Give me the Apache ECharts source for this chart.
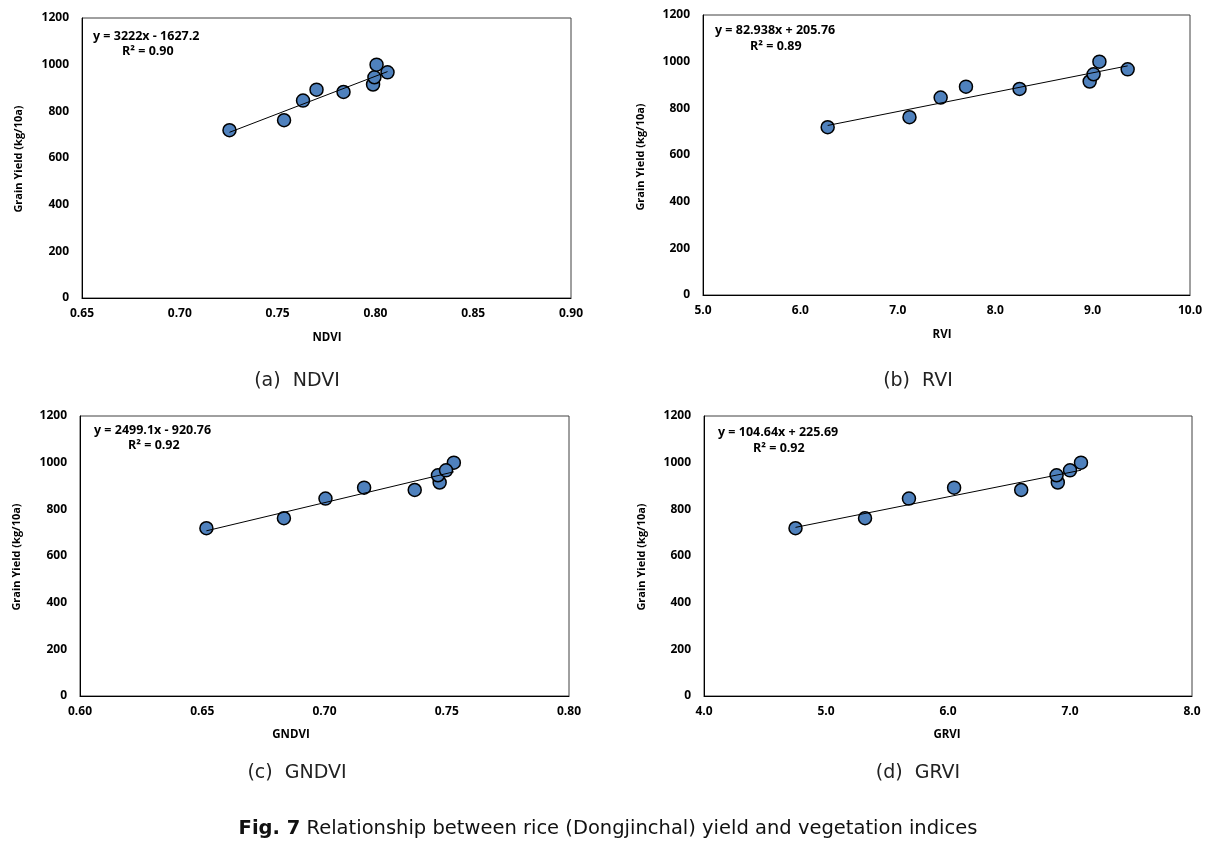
<!DOCTYPE html>
<html>
<head>
<meta charset="utf-8">
<script src="https://cdn.jsdelivr.net/npm/echarts@6/dist/echarts.min.js"></script>
<style>
html,body{margin:0;padding:0;background:#fff;}
#c{width:1222px;height:844px;}
</style>
</head>
<body>
<div id="c"></div>
<script>
// ---- data ----
const yields = [719, 762, 846, 893, 883, 915, 946, 1000, 967];
const ndvi  = [0.7254, 0.7533, 0.7630, 0.7699, 0.7837, 0.7988, 0.7995, 0.8006, 0.8062];
const rvi   = [6.28, 7.12, 7.44, 7.70, 8.25, 8.97, 9.01, 9.07, 9.36];
const gndvi = [0.6517, 0.6834, 0.7004, 0.7162, 0.7369, 0.7471, 0.7464, 0.7529, 0.7497];
const grvi  = [4.75, 5.32, 5.68, 6.05, 6.60, 6.90, 6.89, 7.09, 7.00];
const slopes     = [3222, 82.938, 2499.1, 104.64];
const intercepts = [-1627.2, 205.76, -920.76, 225.69];
const equations  = ['y = 3222x - 1627.2', 'y = 82.938x + 205.76', 'y = 2499.1x - 920.76', 'y = 104.64x + 225.69'];
const r2Labels   = ['R² = 0.90', 'R² = 0.89', 'R² = 0.92', 'R² = 0.92'];
const xTitles    = ['NDVI', 'RVI', 'GNDVI', 'GRVI'];
const captions   = ['(a)  NDVI', '(b)  RVI', '(c)  GNDVI', '(d)  GRVI'];
const xMins      = [0.65, 5, 0.60, 4];
const xMaxs      = [0.90, 10, 0.80, 8];
const xIntervals = [0.05, 1, 0.05, 1];
const xDecimals  = [2, 1, 2, 1];
const yTicks     = [0, 200, 400, 600, 800, 1000, 1200];

const xs = [ndvi, rvi, gndvi, grvi];

// ---- layout ----
const grids = [
  {left: 82,  top: 18,  width: 489, height: 280},
  {left: 703, top: 15,  width: 487, height: 280},
  {left: 80,  top: 416, width: 489, height: 280},
  {left: 704, top: 416, width: 488, height: 280}
];
const eqPos = [[93,38,122,53],[715,32,750,48],[94,432,128,447],[718,434,753,450]];
const yTitlePos = [[19,159],[641,157],[17,557],[642,557]];
const xTitlePos = [[327,338],[942,335],[291,735],[947,735]];
const capPos = [[297,381],[918,381],[297,773],[918,773]];

const tickFont = {fontFamily: 'Open Sans', fontWeight: 'bold', fontSize: 12, color: '#000'};

const option = {
  animation: false,
  backgroundColor: '#fff',
  grid: grids.map(g => Object.assign({show: true, borderColor: '#404040', borderWidth: 1, backgroundColor: 'transparent'}, g)),
  xAxis: grids.map((g, i) => ({
    type: 'value', gridIndex: i,
    min: xMins[i], max: xMaxs[i], interval: xIntervals[i],
    axisLine: {show: true, lineStyle: {color: '#000', width: 1}},
    axisTick: {show: false},
    splitLine: {show: false},
    axisLabel: Object.assign({margin: 10, formatter: v => v.toFixed(xDecimals[i])}, tickFont)
  })),
  yAxis: grids.map((g, i) => ({
    type: 'value', gridIndex: i,
    min: yTicks[0], max: yTicks[yTicks.length - 1], interval: yTicks[1] - yTicks[0],
    axisLine: {show: true, lineStyle: {color: '#000', width: 1}},
    axisTick: {show: false},
    splitLine: {show: false},
    axisLabel: Object.assign({margin: 13, formatter: v => String(v)}, tickFont)
  })),
  series: [],
  graphic: []
};

xs.forEach((xv, i) => {
  option.series.push({
    type: 'scatter', xAxisIndex: i, yAxisIndex: i,
    symbol: 'circle', symbolSize: 13,
    itemStyle: {color: '#4F81BD', borderColor: '#000', borderWidth: 1.5, opacity: 1},
    data: xv.map((x, k) => [x, yields[k]]),
    z: 2
  });
  const lo = Math.min(...xv), hi = Math.max(...xv);
  option.series.push({
    type: 'line', xAxisIndex: i, yAxisIndex: i,
    showSymbol: false, symbol: 'none',
    lineStyle: {color: '#000', width: 1},
    data: [[lo, slopes[i] * lo + intercepts[i]], [hi, slopes[i] * hi + intercepts[i]]],
    z: 3, silent: true
  });
  const e = eqPos[i];
  option.graphic.push({type: 'text', left: e[0], top: e[1] - 8, style: {text: equations[i], font: 'bold 12.5px "Open Sans"', fill: '#000'}});
  option.graphic.push({type: 'text', left: e[2], top: e[3] - 8, style: {text: r2Labels[i], font: 'bold 12.5px "Open Sans"', fill: '#000'}});
  const yt = yTitlePos[i];
  option.graphic.push({type: 'text', x: yt[0], y: yt[1], rotation: Math.PI / 2,
    style: {text: 'Grain Yield (kg/10a)', font: 'bold 11px "Open Sans"', fill: '#000', textAlign: 'center', textVerticalAlign: 'middle'}});
  const xt = xTitlePos[i];
  option.graphic.push({type: 'text', x: xt[0], y: xt[1],
    style: {text: xTitles[i], font: 'bold 11.5px "Open Sans"', fill: '#000', textAlign: 'center', textVerticalAlign: 'middle'}});
  const cp = capPos[i];
  option.graphic.push({type: 'text', x: cp[0], y: cp[1],
    style: {text: captions[i], font: '19px "DejaVu Sans"', fill: '#222', textAlign: 'center', textVerticalAlign: 'middle'}});
});

option.graphic.push({
  type: 'text', x: 608, y: 829,
  style: {
    text: '{b|Fig. 7} Relationship between rice (Dongjinchal) yield and vegetation indices',
    font: '19.5px "DejaVu Sans"', fill: '#111', textAlign: 'center', textVerticalAlign: 'middle',
    rich: {b: {fontWeight: 'bold', fontSize: 19.5, fontFamily: 'DejaVu Sans', fill: '#111'}}
  }
});

const chart = echarts.init(document.getElementById('c'), null, {renderer: 'canvas'});
chart.setOption(option);
</script>
</body>
</html>
